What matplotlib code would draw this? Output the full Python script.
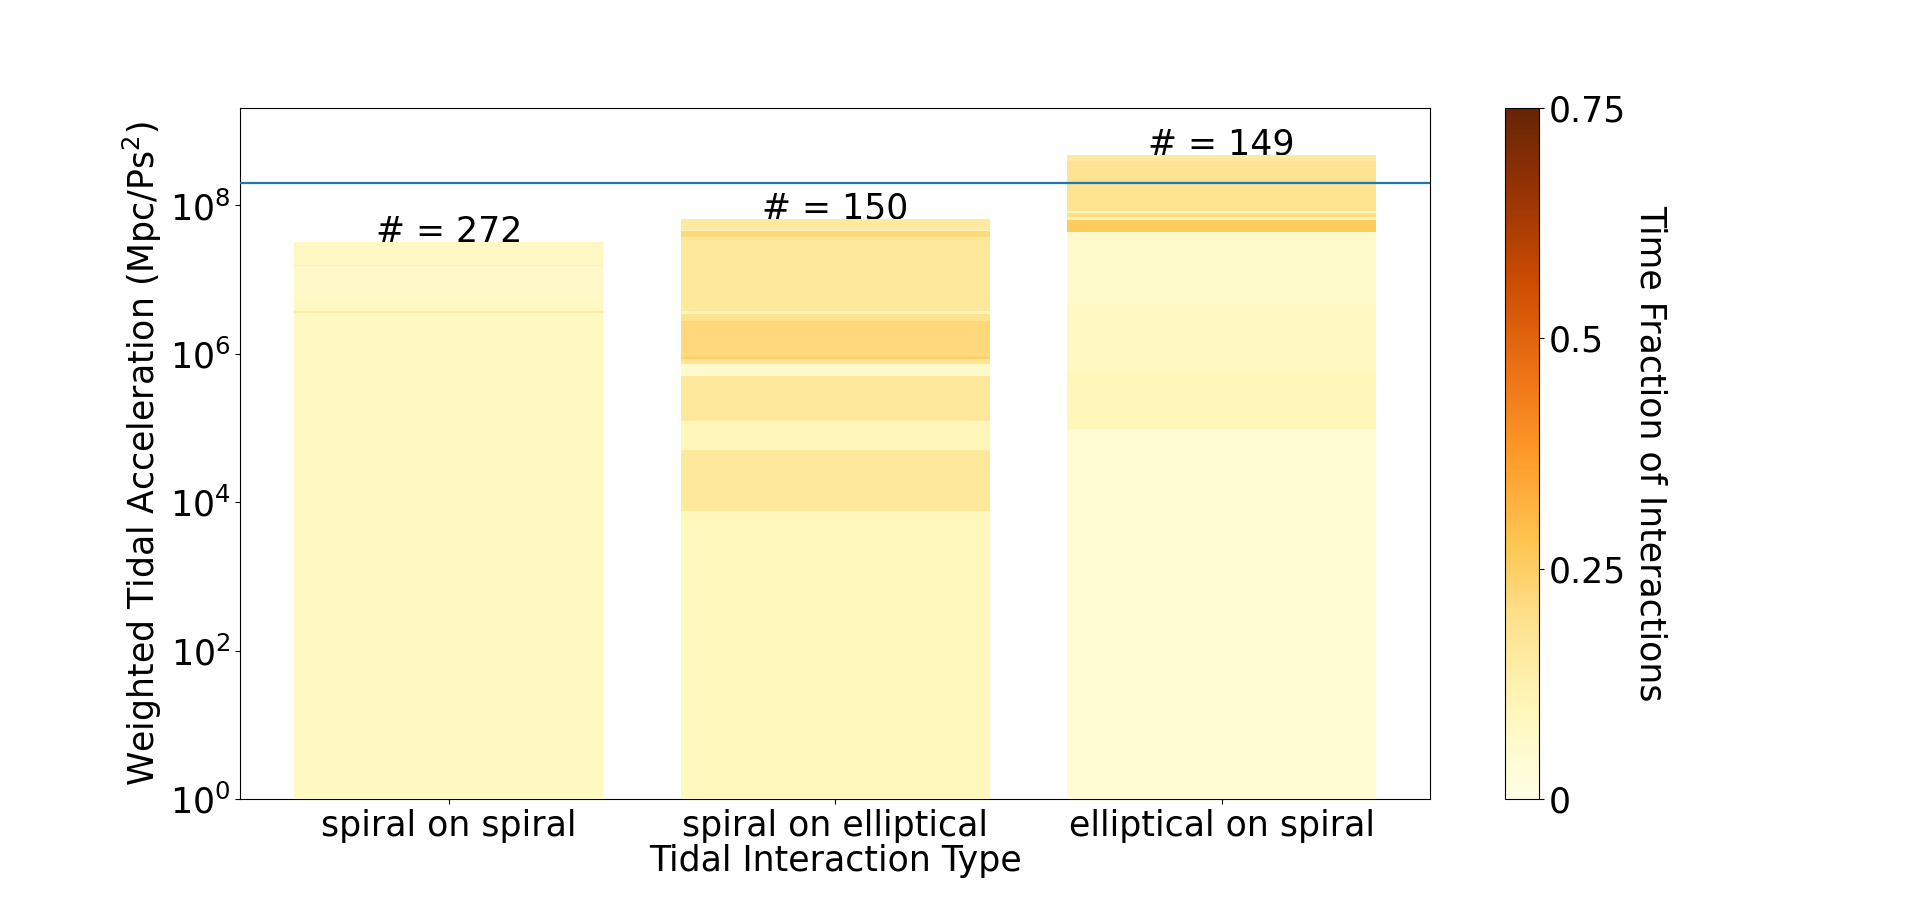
import matplotlib
matplotlib.use("Agg")
import matplotlib.pyplot as plt
import numpy as np
from matplotlib.colors import Normalize
from matplotlib.cm import ScalarMappable
from matplotlib.ticker import NullLocator

categories = ["spiral on spiral", "spiral on elliptical", "elliptical on spiral"]
counts = [272, 150, 149]

# visible band tops (weighted tidal acceleration) and time fractions, top -> bottom
tops_ss = [3.25e7, 1.60e7, 1.55e7, 5.4e6, 3.8e6, 3.6e6]
frac_ss = [0.08, 0.13, 0.065, 0.08, 0.15, 0.085]

tops_se = [6.6e7, 4.6e7, 4.5e7, 3.8e7, 3.4e7, 3.8e6, 3.4e6, 2.8e6, 9.1e5,
           8.5e5, 7.2e5, 5.0e5, 1.26e5, 5.1e4, 7.6e3]
frac_se = [0.16, 0.08, 0.22, 0.17, 0.165, 0.09, 0.19, 0.22, 0.25,
           0.18, 0.06, 0.165, 0.10, 0.165, 0.095]

tops_es = [4.84e8, 4.0e8, 8.3e7, 7.8e7, 6.9e7, 6.3e7, 4.4e7, 4.6e6, 5.5e5, 9.8e4]
frac_es = [0.16, 0.19, 0.09, 0.20, 0.12, 0.26, 0.06, 0.08, 0.10, 0.04]

threshold = 2e8

all_tops = [tops_ss, tops_se, tops_es]
all_fracs = [frac_ss, frac_se, frac_es]

cmap = plt.get_cmap("YlOrBr")
norm = Normalize(vmin=0, vmax=0.75)
FS = 25

fig = plt.figure(figsize=(19.2, 8.98), dpi=100)
ax = fig.add_subplot(111)

for i, (tops, fracs) in enumerate(zip(all_tops, all_fracs)):
    for t, f in zip(tops, fracs):
        ax.bar(i, t, width=0.8, color=cmap(norm(f)), linewidth=0, zorder=4)
    ax.text(i, tops[0], f"# = {counts[i]}", ha="center", va="baseline",
            fontsize=FS, zorder=3)

ax.axhline(threshold, color="#1f77b4", lw=1.6, zorder=5)
ax.set_yscale("log")
ax.set_ylim(1, 2.07e9)
ax.set_xlim(-0.54, 2.54)
ax.yaxis.set_minor_locator(NullLocator())
ax.set_yticks([1, 1e2, 1e4, 1e6, 1e8])
ax.set_xticks(range(len(categories)))
ax.set_xticklabels(categories)
ax.tick_params(labelsize=FS)
ax.set_ylabel("Weighted Tidal Acceleration (Mpc/Ps$^2$)", fontsize=FS)
ax.set_xlabel("Tidal Interaction Type", fontsize=FS, labelpad=1)

sm = ScalarMappable(norm=norm, cmap=cmap)
sm.set_array([])
cb = fig.colorbar(sm, ax=ax, ticks=[0, 0.25, 0.5, 0.75])
cb.ax.set_yticklabels(["0", "0.25", "0.5", "0.75"])
cb.ax.tick_params(labelsize=FS)
cb.set_label("Time Fraction of Interactions", fontsize=FS, rotation=270, labelpad=30)

fig.savefig("out.png", dpi=100)
